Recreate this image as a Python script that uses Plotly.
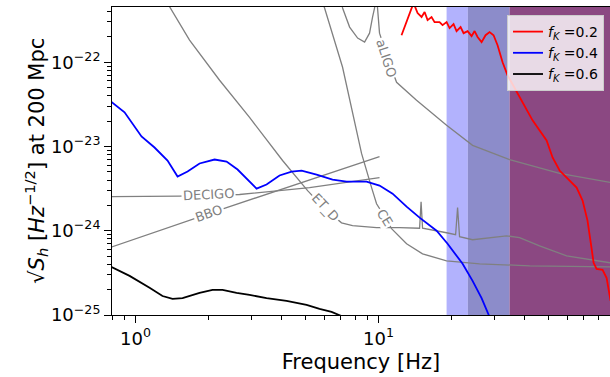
import numpy as np
import plotly.graph_objects as go

# ---------------- data (Hz, strain) ----------------
freq_red = [12.43, 13.42, 13.93, 14.47, 15.03, 15.47, 15.91, 16.52, 17.0, 17.82, 18.34, 19.05, 19.60, 20.35,
            20.94, 21.75, 22.38, 23.25, 24.14, 24.84, 25.55, 26.54, 27.56, 28.63, 29.73, 30.88, 32.38, 33.95,
            38.03, 43.02, 49.14, 52.0, 55.58, 59.39, 62.86, 65.3, 69.1, 72.4, 75.2, 76.7, 78.9, 83.5, 86.8, 90.1]
S_red = [2.09e-22, 3.94e-22, 5.04e-22, 3.83e-22, 3.44e-22, 3.94e-22, 3.16e-22, 3.44e-22, 2.99e-22, 2.99e-22,
         2.75e-22, 2.99e-22, 2.54e-22, 2.83e-22, 2.34e-22, 2.61e-22, 2.21e-22, 2.34e-22, 2.04e-22, 2.34e-22,
         1.99e-22, 1.73e-22, 2.09e-22, 2.28e-22, 2.09e-22, 1.59e-22, 1.0e-22, 7.0e-23, 3.83e-23, 2.04e-23,
         1.18e-23, 7.40e-24, 5.18e-24, 4.28e-24, 3.63e-24, 3.25e-24, 2.28e-24, 1.32e-24, 6.28e-25, 4.16e-25,
         3.53e-25, 3.44e-25, 2.75e-25, 1.47e-25]

freq_blue = [0.78, 0.901, 1.058, 1.197, 1.354, 1.489, 1.637, 1.834, 2.114, 2.369, 2.629, 2.890, 3.147, 3.46,
             3.913, 4.385, 4.822, 5.557, 6.467, 7.385, 8.925, 10.09, 11.42, 13.04, 14.75, 17.33, 19.23, 22.17,
             24.37, 26.54, 28.63]
S_blue = [3.53e-23, 2.54e-23, 1.315e-23, 9.72e-24, 6.81e-24, 4.39e-24, 5.04e-24, 6.28e-24, 7.00e-24, 6.62e-24,
          5.32e-24, 4.04e-24, 3.16e-24, 3.53e-24, 4.52e-24, 5.04e-24, 5.18e-24, 4.64e-24, 4.04e-24, 3.83e-24,
          3.83e-24, 3.44e-24, 2.75e-24, 1.93e-24, 1.43e-24, 1.0e-24, 7.0e-25, 4.05e-25, 2.54e-25, 1.59e-25,
          9.46e-26]

freq_black = [0.78, 0.945, 1.142, 1.291, 1.420, 1.561, 1.834, 2.074, 2.280, 2.604, 2.945, 3.46, 4.183, 5.054,
              5.716, 6.406, 7.04]
S_black = [3.83e-25, 2.91e-25, 2.10e-25, 1.68e-25, 1.55e-25, 1.59e-25, 1.83e-25, 1.99e-25, 1.99e-25, 1.83e-25,
           1.73e-25, 1.59e-25, 1.47e-25, 1.32e-25, 1.18e-25, 1.09e-25, 9.7e-26]

freq_aligo = [6.91, 7.11, 7.60, 8.20, 8.76, 9.18, 9.45, 9.63, 9.77, 9.91, 10.09, 10.89, 11.86, 14.33, 19.05,
              24.37, 34.6, 55.58, 90.1]
S_aligo = [7.19e-22, 4.40e-22, 2.61e-22, 1.93e-22, 1.73e-22, 2.21e-22, 3.44e-22, 4.40e-22, 7.19e-22, 4.40e-22,
           2.21e-22, 1.12e-22, 5.78e-23, 3.53e-23, 1.78e-23, 1.03e-23, 7.0e-24, 4.78e-24, 3.73e-24]

freq_etd = [1.329, 1.668, 2.217, 2.945, 4.027, 5.105, 5.995, 7.04, 7.816, 9.81, 12.2, 14.75, 14.96, 15.17,
            19.05, 20.75, 21.14, 21.54, 24.37, 28.63, 33.63, 38.03, 45.97, 59.39, 75.97, 90.1]
S_etd = [5.47e-22, 1.83e-22, 6.11e-23, 2.21e-23, 6.81e-24, 2.99e-24, 1.83e-24, 1.24e-24, 1.15e-24, 1.09e-24,
         1.09e-24, 1.07e-24, 2.21e-24, 1.07e-24, 9.46e-25, 8.96e-25, 1.88e-24, 8.49e-25, 7.82e-25, 8.26e-25,
         8.71e-25, 8.26e-25, 6.62e-25, 5.04e-25, 4.52e-25, 4.16e-25]

freq_ce = [5.716, 5.995, 7.11, 8.51, 9.36, 9.81, 10.59, 11.31, 13.04, 15.17, 19.05, 26.04, 41.82, 90.1]
S_ce = [6.28e-22, 4.40e-22, 8.71e-23, 8.26e-24, 3.25e-24, 2.09e-24, 1.47e-24, 1.06e-24, 7.0e-25, 5.32e-25,
        4.40e-25, 4.05e-25, 3.83e-25, 3.73e-25]

freq_decigo = [0.78, 1.517, 2.679, 5.20, 10.09]
S_decigo = [2.54e-24, 2.58e-24, 2.69e-24, 3.25e-24, 4.28e-24]

freq_bbo = [0.78, 2.369, 10.09]
S_bbo = [6.28e-25, 1.88e-24, 7.60e-24]

# shaded bands (Hz)
band_edges = [19.05, 23.3, 34.6, 100.0]
band_colors = ["#b2b2fd", "#8c8cca", "#8b4882"]

# curve labels: text, freq, strain, angle
labels = [("aLIGO", 10.79, 1.117e-22, 72),
          ("ET_D", 6.05, 1.88e-24, 47),
          ("CE", 10.59, 1.43e-24, 58),
          ("DECIGO", 2.0, 2.69e-24, -3),
          ("BBO", 2.0, 1.59e-24, -19)]

series = [("<i>f<sub>K</sub></i> =0.2", freq_red, S_red, "red"),
          ("<i>f<sub>K</sub></i> =0.4", freq_blue, S_blue, "blue"),
          ("<i>f<sub>K</sub></i> =0.6", freq_black, S_black, "black")]

detectors = [(freq_aligo, S_aligo), (freq_etd, S_etd), (freq_ce, S_ce),
             (freq_decigo, S_decigo), (freq_bbo, S_bbo)]

xticks = [1, 10]
xticktext = ["10<sup>0</sup>", "10<sup>1</sup>"]
yticks = [1e-25, 1e-24, 1e-23, 1e-22]
yticktext = ["10<sup>\u221225</sup>", "10<sup>\u221224</sup>", "10<sup>\u221223</sup>", "10<sup>\u221222</sup>"]

FONT = "DejaVu Sans"

fig = go.Figure()

for f, s in detectors:
    fig.add_trace(go.Scatter(x=f, y=s, mode="lines", line=dict(color="#808080", width=1.3),
                             showlegend=False, hoverinfo="skip"))

for name, f, s, c in series:
    fig.add_trace(go.Scatter(x=f, y=s, mode="lines", name=name, line=dict(color=c, width=1.8)))

for i in range(3):
    fig.add_shape(type="rect", xref="x", yref="paper",
                  x0=band_edges[i], x1=band_edges[i + 1], y0=0, y1=1,
                  fillcolor=band_colors[i], line=dict(width=0), layer="below")

for text, fx, sy, ang in labels:
    fig.add_annotation(x=np.log10(fx), y=np.log10(sy), xref="x", yref="y", text=text, showarrow=False,
                       textangle=ang, font=dict(family=FONT, size=13, color="#808080"),
                       bgcolor="white", borderpad=1)

# y-axis title as rotated text
fig.add_annotation(x=-0.153, y=0.5, xref="paper", yref="paper", xanchor="center", yanchor="middle",
                   showarrow=False, textangle=-90,
                   text="\u221a<i>S</i><sub><i>h</i></sub> [<i>Hz</i><sup>\u22121/2</sup>] at 200 Mpc",
                   font=dict(family=FONT, size=21, color="black"))

minor_x = [0.8, 0.9] + [k for k in range(2, 10)] + [10 * k for k in range(2, 10)]
minor_y = [k * 10.0 ** e for e in range(-25, -21) for k in range(2, 10)]

fig.update_layout(
    width=610, height=377,
    margin=dict(l=112, r=0, t=7, b=62),
    plot_bgcolor="white", paper_bgcolor="white",
    font=dict(family=FONT, color="black"),
    legend=dict(x=0.988, y=0.974, xanchor="right", yanchor="top",
                bgcolor="rgba(255,255,255,0.8)", bordercolor="#cccccc", borderwidth=1,
                font=dict(family=FONT, size=14), itemwidth=30, tracegroupgap=0),
    xaxis=dict(type="log", range=[np.log10(0.8), np.log10(89.6)],
               showline=True, linecolor="black", linewidth=1, mirror=True,
               ticks="outside", ticklen=7, tickwidth=1, tickcolor="black",
               tickvals=xticks, ticktext=xticktext, tickfont=dict(size=18),
               showgrid=False, zeroline=False,
               minor=dict(ticks="outside", ticklen=4, tickwidth=1, tickcolor="black",
                          tickvals=minor_x, showgrid=False),
               title=dict(text="Frequency [Hz]", font=dict(size=21), standoff=6)),
    yaxis=dict(type="log", range=[-25, -21.345],
               showline=True, linecolor="black", linewidth=1, mirror=True,
               ticks="outside", ticklen=7, tickwidth=1, tickcolor="black",
               tickvals=yticks, ticktext=yticktext, tickfont=dict(size=18),
               showgrid=False, zeroline=False,
               minor=dict(ticks="outside", ticklen=4, tickwidth=1, tickcolor="black",
                          tickvals=minor_y, showgrid=False)),
)

fig.write_html("out.html")
